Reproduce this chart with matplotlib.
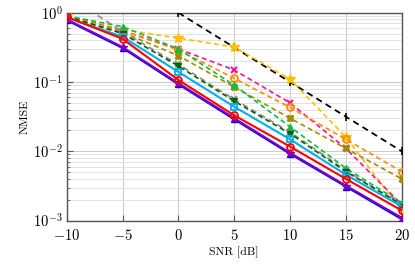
import matplotlib
matplotlib.use("Agg")
import matplotlib.pyplot as plt
from matplotlib.ticker import FuncFormatter, LogLocator, NullFormatter

plt.rcParams['font.family'] = 'serif'
plt.rcParams['font.serif'] = ['cmr10', 'DejaVu Serif']
plt.rcParams['mathtext.fontset'] = 'cm'
plt.rcParams['axes.formatter.use_mathtext'] = True

snr = [-10, -5, 0, 5, 10, 15, 20]
snr_ref = [0, 5, 10, 15, 20]

nmse_ref = [1.0, 0.316, 0.1, 0.0316, 0.01]
nmse_yellow = [0.9, 0.57, 0.43, 0.32, 0.110, 0.016, 0.0014]
nmse_magenta = [0.9, 0.55, 0.30, 0.149, 0.050, 0.011, 0.0017]
nmse_orange = [0.88, 0.55, 0.29, 0.113, 0.043, 0.0149, 0.0051]
nmse_olive = [0.86, 0.52, 0.24, 0.085, 0.030, 0.011, 0.0040]
nmse_green = [0.9, 0.63, 0.30, 0.090, 0.0226, 0.0057, 0.0018]
nmse_gray = [1.8, 0.53, 0.18, 0.056, 0.019, 0.0053, 0.0017]
nmse_dkgreen = [0.88, 0.50, 0.17, 0.053, 0.018, 0.0051, 0.0017]
nmse_cyan = [0.85, 0.45, 0.14, 0.044, 0.0149, 0.0046, 0.0016]
nmse_red = [0.87, 0.42, 0.107, 0.033, 0.0117, 0.0040, 0.0014]
nmse_blue = [0.78, 0.31, 0.093, 0.029, 0.0092, 0.0031, 0.00105]
nmse_purple = [0.80, 0.32, 0.096, 0.030, 0.0095, 0.0032, 0.0011]

fig = plt.figure(figsize=(4.15, 2.67), dpi=100)
ax = fig.add_axes([0.1607, 0.1738, 0.8073, 0.7786])

dash = (0, (3, 2))
ax.plot(snr_ref, nmse_ref, color='black', ls=(0, (3.5, 2.5)), lw=1.3, marker='|', ms=6, mew=1.2, zorder=3)
ax.plot(snr, nmse_yellow, color='#FFC000', ls=dash, lw=1.2, marker='*', ms=7, zorder=3)
ax.plot(snr, nmse_magenta, color='#FF1493', ls=dash, lw=1.2, marker='x', ms=5, mew=1.5, zorder=3)
ax.plot(snr, nmse_orange, color='#FF8C00', ls=dash, lw=1.2, marker='o', ms=5, mfc='none', mew=1.3, zorder=3)
ax.plot(snr, nmse_olive, color='#A08C00', ls=dash, lw=1.2, marker='X', ms=5, zorder=3)
ax.plot(snr, nmse_green, color='#00C040', ls=dash, lw=1.2, marker='^', ms=5, zorder=3)
ax.plot(snr, nmse_gray, color='#8c8c8c', ls=(0, (3.5, 2.5)), lw=1.2, marker='x', ms=5, mew=1.3, zorder=3)
ax.plot(snr, nmse_dkgreen, color='#006400', ls=dash, lw=1.2, marker='v', ms=5, zorder=3)
ax.plot(snr, nmse_cyan, color='#00AEEF', ls='-', lw=1.5, marker='s', ms=5, mfc='none', mew=1.3, zorder=4)
ax.plot(snr, nmse_blue, color='#0000FF', ls='-', lw=1.5, marker='^', ms=5, zorder=4)
ax.plot(snr, nmse_purple, color='#7F00BF', ls='-', lw=1.5, marker='*', ms=6, zorder=4)
ax.plot(snr, nmse_red, color='#FF0000', ls='-', lw=1.5, marker='o', ms=5, mfc='none', mew=1.3, zorder=5)

ax.set_yscale('log')
ax.set_xlim(-10, 20)
ax.set_ylim(1e-3, 1)
ax.set_xticks([-10, -5, 0, 5, 10, 15, 20])
ax.xaxis.set_major_formatter(FuncFormatter(lambda v, p: f'${v:g}$'))
ax.yaxis.set_major_locator(LogLocator(base=10, numticks=10))
ax.yaxis.set_minor_locator(LogLocator(base=10, subs=range(2, 10), numticks=10))
ax.yaxis.set_minor_formatter(NullFormatter())

ax.grid(True, which='major', color='#cccccc', lw=0.8, zorder=0)
ax.grid(True, which='minor', axis='y', color='#dddddd', lw=0.6, zorder=0)
ax.set_axisbelow(True)

for s in ax.spines.values():
    s.set_color('#555555')
    s.set_linewidth(1.0)
ax.tick_params(which='both', direction='in', color='#555555', labelsize=10.5, pad=3)
ax.tick_params(axis='x', which='major', pad=5)
ax.tick_params(which='major', length=4)
ax.tick_params(which='minor', length=2)

ax.set_xlabel('SNR [dB]', fontsize=8.5, labelpad=3)
ax.set_ylabel('NMSE', fontsize=8.5, labelpad=2)

fig.savefig('out.png', dpi=100)
